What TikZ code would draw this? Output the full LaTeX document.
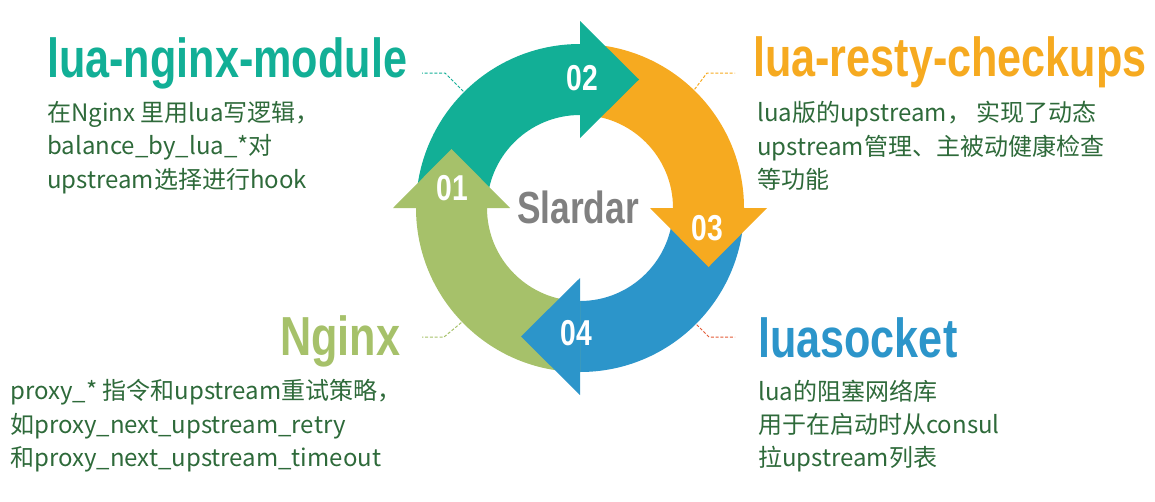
\documentclass[tikz,border=0pt]{standalone}
\usepackage{fontspec}
\setmainfont{Noto Sans CJK SC}
\newfontfamily\titlefont[FakeStretch=0.785]{Liberation Sans}
\definecolor{cteal}{HTML}{12AF96}
\definecolor{corange}{HTML}{F6AA20}
\definecolor{cblue}{HTML}{2C95CA}
\definecolor{cgreen}{HTML}{A6C16A}
\definecolor{bodygreen}{HTML}{2E6A3A}
\definecolor{cgray}{HTML}{808080}
\definecolor{cred}{HTML}{E35A35}
\begin{document}
\begin{tikzpicture}[x=1pt,y=1pt,
  title/.style={inner sep=0pt, anchor=base west, font=\titlefont\bfseries\fontsize{55}{55}\selectfont},
  body/.style={inner sep=0pt, anchor=base west, text=bodygreen, font=\fontsize{24}{24}\selectfont},
  num/.style={inner sep=0pt, text=white, font=\titlefont\bfseries\fontsize{36}{36}\selectfont},
  leader/.style={dash pattern=on 3pt off 1.8pt, line width=1pt},
]
\useasboundingbox (0,0) rectangle (1155,-501);
\coordinate (C) at (580,-208);

% ring bands
\fill[cteal] (C) ++(180:164) arc[start angle=180, end angle=90, radius=164] -- ++(0,-71) arc[start angle=90, end angle=180, radius=93] -- cycle;
\fill[corange] (C) ++(90:164) arc[start angle=90, end angle=0, radius=164] -- ++(-71,0) arc[start angle=0, end angle=90, radius=93] -- cycle;
\fill[cblue] (C) ++(0:164) arc[start angle=0, end angle=-90, radius=164] -- ++(0,71) arc[start angle=-90, end angle=0, radius=93] -- cycle;
\fill[cgreen] (C) ++(-90:164) arc[start angle=-90, end angle=-180, radius=164] -- ++(71,0) arc[start angle=-180, end angle=-90, radius=93] -- cycle;

% arrow heads
\fill[cteal] ([shift={(0,187)}]C) -- ([shift={(59,128.5)}]C) -- ([shift={(0,70)}]C) -- cycle;
\fill[corange] ([shift={(187,0)}]C) -- ([shift={(128.5,-59)}]C) -- ([shift={(70,0)}]C) -- cycle;
\fill[cblue] ([shift={(0,-187)}]C) -- ([shift={(-59,-128.5)}]C) -- ([shift={(0,-70)}]C) -- cycle;
\fill[cgreen] ([shift={(-187,0)}]C) -- ([shift={(-128.5,59)}]C) -- ([shift={(-70,0)}]C) -- cycle;

% numbers and centre label
\node[num] (n02) at (582,-78) {02};
\node[num] (n01) at (452,-188) {01};
\node[num] (n03) at (707,-228) {03};
\node[num] (n04) at (576,-333) {04};
\node[inner sep=0pt, anchor=base west, text=cgray, font=\titlefont\bfseries\fontsize{45}{45}\selectfont] (sl) at (517,-223) {Slardar};

% leader lines
\coordinate (r1) at ([shift={(135:165)}]C);
\coordinate (e1) at (445,-73);
\coordinate (t1) at (422,-73);
\draw[leader, cteal] (r1) -- (e1) -- (t1);
\coordinate (r2) at ([shift={(46:165)}]C);
\coordinate (e2) at (707,-73);
\coordinate (t2) at (735,-73);
\draw[leader, corange] (r2) -- (e2) -- (t2);
\coordinate (r3) at ([shift={(224:165)}]C);
\coordinate (e3) at (444,-337);
\coordinate (t3) at (422,-337);
\draw[leader, cgreen] (r3) -- (e3) -- (t3);
\coordinate (r4) at ([shift={(315:165)}]C);
\coordinate (e4) at (709,-337);
\coordinate (t4) at (735,-337);
\draw[leader, cred] (r4) -- (e4) -- (t4);

% titles
\node[title, text=cteal] (lnm) at (47,-77) {lua-nginx-module};
\node[title, text=corange] (lrc) at (753,-76) {lua-resty-checkups};
\node[title, text=cgreen] (ngx) at (280,-355) {Nginx};
\node[title, text=cblue] (lsk) at (758,-357) {luasocket};

% body texts
\node[body] (a1) at (47,-121) {在Nginx 里用lua写逻辑，};
\node[body] (a2) at (47,-154.5) {balance\_by\_lua\_*对};
\node[body] (a3) at (47,-188) {upstream选择进行hook};

\node[body] (b1) at (757,-121.5) {lua版的upstream， 实现了动态};
\node[body] (b2) at (757,-155) {upstream管理、主被动健康检查};
\node[body] (b3) at (757,-188.5) {等功能};

\node[body] (c1) at (10,-399) {proxy\_* 指令和upstream重试策略，};
\node[body] (c2) at (10,-433) {如proxy\_next\_upstream\_retry};
\node[body] (c3) at (10,-466.5) {和proxy\_next\_upstream\_timeout};

\node[body] (d1) at (758,-400) {lua的阻塞网络库};
\node[body] (d2) at (758,-433) {用于在启动时从consul};
\node[body] (d3) at (758,-466.5) {拉upstream列表};
\end{tikzpicture}
\end{document}
